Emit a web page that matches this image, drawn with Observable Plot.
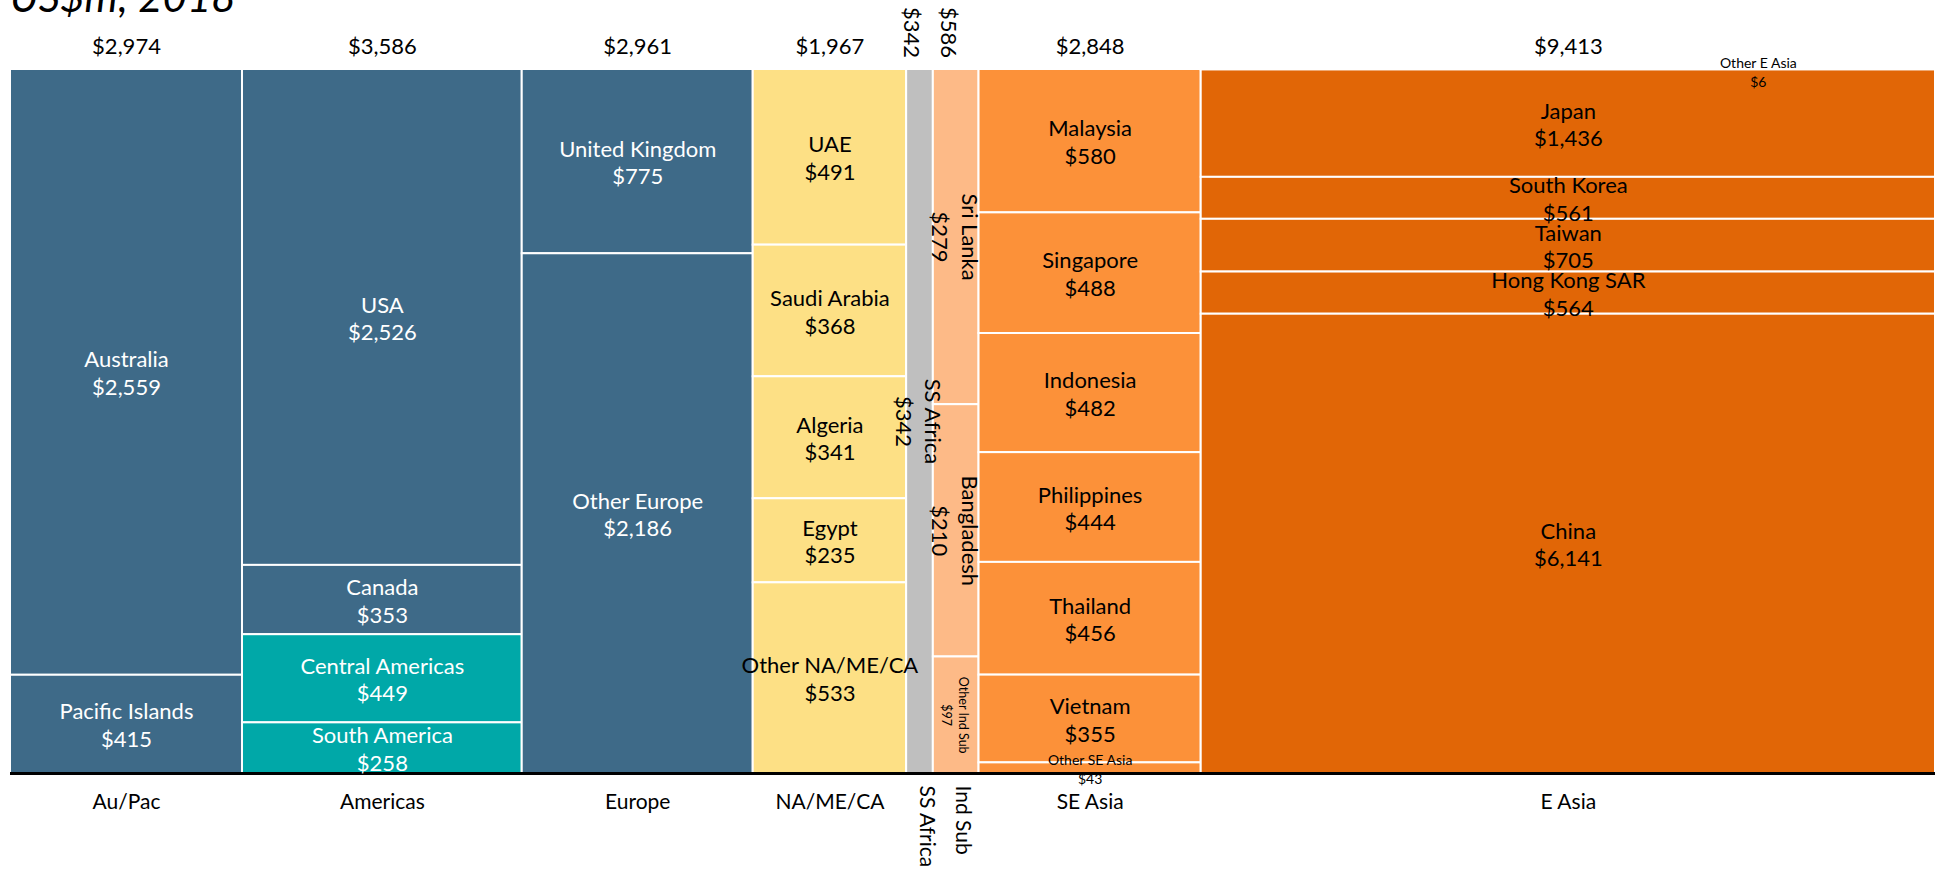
<!DOCTYPE html>
<html><head><meta charset="utf-8">
<script src="https://cdn.jsdelivr.net/npm/d3@7"></script>
<script src="https://cdn.jsdelivr.net/npm/@observablehq/plot@0.6"></script>
<style>
html,body{margin:0;padding:0;background:#fff;overflow:hidden;width:1939px;height:875px;}
#title{position:absolute;left:10px;top:-25px;font:italic 42px Lato, sans-serif;color:#000;line-height:1;white-space:nowrap;}
#chart{position:absolute;left:0;top:0;}
</style></head><body>
<div id="chart"></div><div id="title">US$m; 2018</div>
<script>
// Regions (columns) and their totals, US$m 2018
const regions = ["Au/Pac", "Americas", "Europe", "NA/ME/CA", "SS Africa", "Ind Sub", "SE Asia", "E Asia"];
const regionTotals = [2974, 3586, 2961, 1967, 342, 586, 2848, 9413];

// Cells (top to bottom within each column)
const countries = [
  "Australia", "Pacific Islands",
  "USA", "Canada", "Central Americas", "South America",
  "United Kingdom", "Other Europe",
  "UAE", "Saudi Arabia", "Algeria", "Egypt", "Other NA/ME/CA",
  "SS Africa",
  "Sri Lanka", "Bangladesh", "Other Ind Sub",
  "Malaysia", "Singapore", "Indonesia", "Philippines", "Thailand", "Vietnam", "Other SE Asia",
  "Other E Asia", "Japan", "South Korea", "Taiwan", "Hong Kong SAR", "China"
];
const countryRegions = [
  "Au/Pac", "Au/Pac",
  "Americas", "Americas", "Americas", "Americas",
  "Europe", "Europe",
  "NA/ME/CA", "NA/ME/CA", "NA/ME/CA", "NA/ME/CA", "NA/ME/CA",
  "SS Africa",
  "Ind Sub", "Ind Sub", "Ind Sub",
  "SE Asia", "SE Asia", "SE Asia", "SE Asia", "SE Asia", "SE Asia", "SE Asia",
  "E Asia", "E Asia", "E Asia", "E Asia", "E Asia", "E Asia"
];
const countryValues = [
  2559, 415,
  2526, 353, 449, 258,
  775, 2186,
  491, 368, 341, 235, 533,
  342,
  279, 210, 97,
  580, 488, 482, 444, 456, 355, 43,
  6, 1436, 561, 705, 564, 6141
];

// ---- styling (kept out of the data) ----
const regionFill = {
  "Au/Pac": "#3e6a88", "Americas": "#3e6a88", "Europe": "#3e6a88",
  "NA/ME/CA": "#fde085", "SS Africa": "#bfbfbf", "Ind Sub": "#fdba87",
  "SE Asia": "#fc9139", "E Asia": "#e16606"
};
const tealCells = new Set(["Central Americas", "South America"]);
const whiteLabelRegions = new Set(["Au/Pac", "Americas", "Europe"]);
const rotatedRegions = new Set(["SS Africa", "Ind Sub"]);
const smallCells = new Set(["Other E Asia", "Other SE Asia", "Other Ind Sub"]);
const fmt = d3.format("$,");
const FONT = "Lato, 'Open Sans', sans-serif";

const total = d3.sum(regionTotals);
let cum = 0;
const regionRows = regions.map((r, i) => {
  const x1 = cum; cum += regionTotals[i];
  return {region: r, total: regionTotals[i], x1, x2: cum};
});
const cells = [];
for (const rr of regionRows) {
  const idx = d3.range(countries.length).filter(i => countryRegions[i] === rr.region);
  const s = d3.sum(idx, i => countryValues[i]);
  let c = 0;
  for (const i of idx) {
    cells.push({name: countries[i], region: rr.region, value: countryValues[i],
      x1: rr.x1, x2: rr.x2, y1: c / s, y2: (c + countryValues[i]) / s});
    c += countryValues[i];
  }
}
const fillOf = d => tealCells.has(d.name) ? "#00a8a8" : regionFill[d.region];
const labelColor = d => whiteLabelRegions.has(d.region) ? "#ffffff" : "#000000";
const midX = d => (d.x1 + d.x2) / 2;
const midY = d => (d.y1 + d.y2) / 2;
const lbl = d => `${d.name}\n${fmt(d.value)}`;

const bigH = cells.filter(d => !smallCells.has(d.name) && !rotatedRegions.has(d.region));
const bigR = cells.filter(d => !smallCells.has(d.name) && rotatedRegions.has(d.region));
const byName = n => cells.filter(d => d.name === n);

const chart = Plot.plot({
  width: 1939, height: 875,
  marginLeft: 10, marginRight: 4, marginTop: 69, marginBottom: 102,
  style: {fontFamily: FONT, background: "#fff"},
  x: {domain: [0, total], axis: null},
  y: {domain: [0, 1], reverse: true, axis: null},
  color: {type: "identity"},
  marks: [
    Plot.rect(cells, {x1: "x1", x2: "x2", y1: "y1", y2: "y2", fill: fillOf, stroke: "#ffffff", strokeWidth: 2}),
    Plot.ruleY([1], {stroke: "#000", strokeWidth: 3}),
    Plot.text(bigH, {x: midX, y: midY, text: lbl, fill: labelColor, fontSize: 22, lineHeight: 1.25, fontFamily: FONT}),
    Plot.text(bigR, {x: midX, y: midY, text: lbl, fill: labelColor, fontSize: 22, lineHeight: 1.35, rotate: 90, fontFamily: FONT}),
    Plot.text(byName("Other E Asia"), {x: midX, y: midY, text: lbl, fill: "#000", fontSize: 14, lineHeight: 1.3, dx: 190, dy: 2, fontFamily: FONT}),
    Plot.text(byName("Other SE Asia"), {x: midX, y: midY, text: lbl, fill: "#000", fontSize: 14, lineHeight: 1.35, fontFamily: FONT}),
    Plot.text(byName("Other Ind Sub"), {x: midX, y: midY, text: lbl, fill: "#000", fontSize: 12.5, lineHeight: 1.4, rotate: 90, fontFamily: FONT}),
    // column totals above
    Plot.text(regionRows.filter(d => !rotatedRegions.has(d.region)), {x: midX, text: d => fmt(d.total), frameAnchor: "top", dy: -31, fontSize: 22, fill: "#000", fontFamily: FONT}),
    Plot.text(regionRows.filter(d => rotatedRegions.has(d.region)), {x: midX, text: d => fmt(d.total), frameAnchor: "top", dy: -37, rotate: 90, fontSize: 22, fill: "#000", fontFamily: FONT}),
    // column names below
    Plot.text(regionRows.filter(d => !rotatedRegions.has(d.region)), {x: midX, text: "region", frameAnchor: "bottom", dy: 35, fontSize: 21, fill: "#000", fontFamily: FONT}),
    Plot.text(regionRows.filter(d => rotatedRegions.has(d.region)), {x: midX, text: "region", frameAnchor: "bottom", dy: 12, rotate: 90, textAnchor: "start", fontSize: 21, fill: "#000", fontFamily: FONT})
  ]
});
document.getElementById("chart").appendChild(chart);
</script>
</body></html>
